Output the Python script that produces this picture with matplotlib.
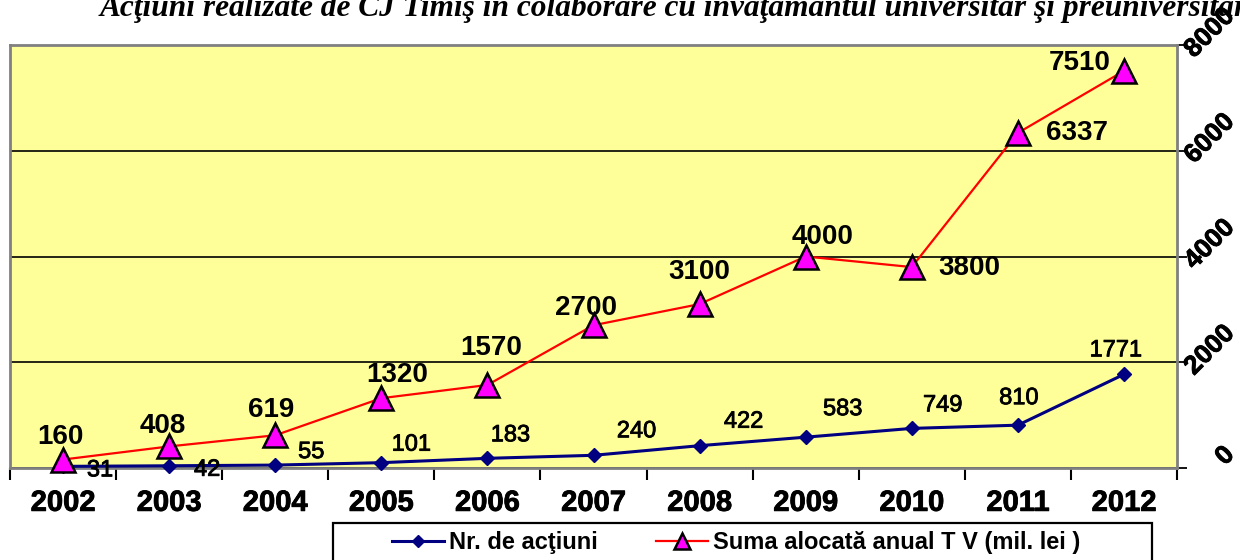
import matplotlib
matplotlib.use('Agg')
import matplotlib.pyplot as plt
import matplotlib.patheffects as pe
from matplotlib.patches import Rectangle
from matplotlib.transforms import ScaledTranslation

# ---------------- data ----------------
years = ['2002', '2003', '2004', '2005', '2006', '2007', '2008', '2009', '2010', '2011', '2012']
actions = [31, 42, 55, 101, 183, 240, 422, 583, 749, 810, 1771]
budget = [160, 408, 619, 1320, 1570, 2700, 3100, 4000, 3800, 6337, 7510]
y_ticks = [0, 2000, 4000, 6000, 8000]
title = "Acţiuni realizate de CJ Timiş în colaborare cu învăţământul universitar şi preuniversitar"
series_names = ['Nr. de acţiuni', 'Suma alocată anual T V (mil. lei )']

# ---------------- layout (label offsets in pixels) ----------------
budget_offsets = [(-3, 23), (-6, 20), (-4, 25), (16, 23), (4, 37), (-7, 17),
                  (0, 32), (17, 20), (58, -1), (59, 0), (-44, 8)]
action_offsets = [(37, -4), (38, -4), (36, 13), (30, 18), (23, 23), (43, 24),
                  (44, 24), (37, 28), (31, 23), (1, 27), (-8, 24)]

plt.rcParams['font.family'] = ['Liberation Sans', 'DejaVu Sans']

light = [pe.withStroke(linewidth=0.6, foreground='black')]

W, H = 1240, 560
fig = plt.figure(figsize=(W / 100, H / 100), dpi=100)
fig.patch.set_facecolor('white')

ax = fig.add_axes([10 / W, 1 - 468 / H, 1167 / W, 423 / H])
ax.set_facecolor('#FFFF99')

x = list(range(len(years)))
l1, = ax.plot(x, actions, color='#000080', lw=2.2, marker='D', ms=7,
              mfc='#000080', mec='#000080', zorder=3, clip_on=False)
l2, = ax.plot(x, budget, color='#FF0000', lw=1.6, marker='^', ms=17,
              mfc='#FF00FF', mec='black', mew=1.8, zorder=4, clip_on=False)

ax.set_xlim(-0.5, len(years) - 0.5)
ax.set_ylim(y_ticks[0], y_ticks[-1])

# data labels
for i, v in enumerate(budget):
    ax.annotate(str(v), (i, v), xytext=budget_offsets[i], textcoords='offset pixels',
                ha='center', va='center', fontsize=20, fontweight='bold', zorder=6)
for i, v in enumerate(actions):
    ax.annotate(str(v), (i, v), xytext=action_offsets[i], textcoords='offset pixels',
                ha='center', va='center', fontsize=17, zorder=6, path_effects=light)

# x axis: labels at centres, tick marks at category boundaries
ax.set_xticks(x)
ax.set_xticklabels(years, fontweight='bold')
for lbl in ax.get_xticklabels():
    lbl.set_path_effects(light)
ax.set_xticks([i - 0.5 for i in range(len(years) + 1)], minor=True)
ax.tick_params(axis='x', which='major', length=0, pad=15, labelsize=21)
ax.tick_params(axis='x', which='minor', length=8.5, width=1.5, color='black', direction='out')

# y axis on the right
ax.set_yticks(y_ticks)
ax.yaxis.set_ticks_position('right')
ax.tick_params(axis='y', which='major', direction='out', length=7, width=1.3,
               color='black', labelright=False, labelleft=False)
ytrans = ax.get_yaxis_transform() + ScaledTranslation(0, 0.12, fig.dpi_scale_trans)
for v in y_ticks:
    ax.text(1.053, v, str(v), transform=ytrans, rotation=45, ha='right', va='center',
            fontsize=19, fontweight='bold', clip_on=False, path_effects=light)

ax.grid(axis='y', color='black', lw=1.2)
ax.set_axisbelow(True)
for s in ax.spines.values():
    s.set_color('#808080')
    s.set_linewidth(2)

# title (partly cut off at top, as in the reference)
t = fig.text(100 / W, 1 - 16 / H, title, fontfamily='Liberation Serif', fontstyle='italic',
             fontweight='bold', fontsize=20, ha='left', va='baseline')
r = fig.canvas.get_renderer()
wpx = t.get_window_extent(renderer=r).width
t.set_fontsize(20 * 1145 / wpx)

# legend frame + legend
frame = Rectangle((333 / W, -0.1), 819 / W, 0.1 + 37 / H, transform=fig.transFigure,
                  facecolor='white', edgecolor='black', lw=1.6, clip_on=False, zorder=1)
fig.add_artist(frame)
leg = fig.legend([l1, l2], series_names, loc='center left', bbox_to_anchor=(392 / W, 1 - 543 / H),
                 ncol=2, frameon=False, prop=dict(weight='bold', size=17),
                 handlelength=2.2, handletextpad=0.2, columnspacing=2.5,
                 borderpad=0, borderaxespad=0)
leg.set_zorder(2)
leg.legend_handles[0].set_markersize(6)
leg.legend_handles[1].set_markersize(11)

fig.savefig('out.png', dpi=100)
